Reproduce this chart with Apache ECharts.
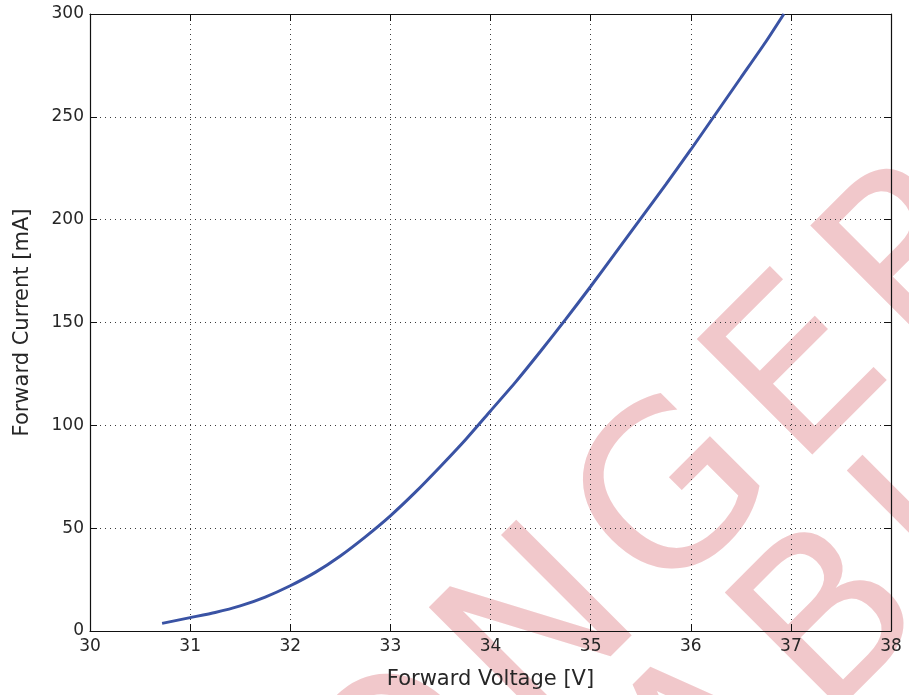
<!DOCTYPE html>
<html>
<head>
<meta charset="utf-8">
<script src="https://cdn.jsdelivr.net/npm/echarts@6/dist/echarts.min.js"></script>
<style>
  html, body { margin: 0; padding: 0; background: #ffffff; }
  #chart { width: 909px; height: 695px; }
</style>
</head>
<body>
<div id="chart"></div>
<script>
// ---- data ----
const voltage = [30.72, 31.0, 31.25, 31.5, 31.75, 32.0, 32.25, 32.5, 32.75, 33.0, 33.25, 33.5, 33.75, 34.0, 34.25, 34.5, 34.75, 35.0, 35.25, 35.5, 35.75, 36.0, 36.25, 36.5, 36.75, 36.93];
const current = [3.7, 6.5, 9.0, 12.2, 16.5, 22.0, 28.5, 36.5, 45.8, 56.0, 67.5, 80.0, 93.0, 107.0, 121.0, 136.0, 151.5, 167.5, 184.0, 200.5, 217.0, 234.0, 251.5, 269.0, 286.5, 300.0];
const xRange = [30, 38];
const yRange = [0, 300];
const xTitle = 'Forward Voltage [V]';
const yTitle = 'Forward Current [mA]';
const watermarkLines = ['NO LONGER', 'AVAILABLE'];

const FONT = '"DejaVu Sans", "Noto Sans", sans-serif';
const TEXT = '#262626';

const chart = echarts.init(document.getElementById('chart'), null, { renderer: 'canvas' });

const frameAxis = {
  axisLine: { show: true, onZero: false, lineStyle: { color: '#111', width: 1.2 } },
  axisTick: { show: true, inside: true, length: 7, lineStyle: { color: '#111', width: 1 } },
  splitLine: { show: false },
  axisLabel: { show: false }
};

// watermark: large rotated text with a little letter spacing (rich tokens with side padding)
const WM_FS = 224;
const WM_GAP = 19;
function spaced(str) {
  return str.split('').map(function (c) { return '{l|' + c + '}'; }).join('');
}
const wmStyle = {
  fontSize: WM_FS,
  fontFamily: 'DejaVu Sans',
  fill: '#f1c8cb',
  align: 'left',
  verticalAlign: 'middle',
  rich: {
    l: {
      fontSize: WM_FS,
      fontFamily: 'DejaVu Sans',
      fill: '#f1c8cb',
      padding: [0, WM_GAP / 2, 0, WM_GAP / 2]
    }
  }
};

chart.setOption({
  backgroundColor: '#ffffff',
  animation: false,
  graphic: {
    elements: [
      {
        type: 'text', z: -100, silent: true,
        x: -92.8, y: 1277.3, rotation: Math.PI / 4,
        style: Object.assign({ text: spaced(watermarkLines[0]) }, wmStyle)
      },
      {
        type: 'text', z: -100, silent: true,
        x: 127.8, y: 1338.1, rotation: Math.PI / 4,
        style: Object.assign({ text: spaced(watermarkLines[1]) }, wmStyle)
      }
    ]
  },
  grid: { left: 90, right: 18, top: 14, bottom: 64, containLabel: false },
  xAxis: [
    {
      type: 'value', position: 'bottom', min: xRange[0], max: xRange[1], interval: 1,
      axisLine: { show: true, onZero: false, lineStyle: { color: '#111', width: 1.2 } },
      axisTick: { show: true, inside: true, length: 7, lineStyle: { color: '#111', width: 1 } },
      axisLabel: { show: true, margin: 7, fontSize: 17, color: TEXT, fontFamily: FONT, showMinLabel: true, showMaxLabel: true },
      splitLine: { show: true, lineStyle: { color: '#3a3a3a', width: 1, type: [1, 4] } },
      name: xTitle, nameLocation: 'middle', nameGap: 38,
      nameTextStyle: { fontSize: 21, color: TEXT, fontFamily: FONT }
    },
    Object.assign({ type: 'value', position: 'top', min: xRange[0], max: xRange[1], interval: 1 }, frameAxis)
  ],
  yAxis: [
    {
      type: 'value', position: 'left', min: yRange[0], max: yRange[1], interval: 50,
      axisLine: { show: true, onZero: false, lineStyle: { color: '#111', width: 1.2 } },
      axisTick: { show: true, inside: true, length: 7, lineStyle: { color: '#111', width: 1 } },
      axisLabel: { show: true, margin: 6, fontSize: 17, color: TEXT, fontFamily: FONT, showMinLabel: true, showMaxLabel: true },
      splitLine: { show: true, lineStyle: { color: '#3a3a3a', width: 1, type: [1, 4] } },
      name: yTitle, nameLocation: 'middle', nameGap: 57,
      nameTextStyle: { fontSize: 21, color: TEXT, fontFamily: FONT }
    },
    Object.assign({ type: 'value', position: 'right', min: yRange[0], max: yRange[1], interval: 50 }, frameAxis)
  ],
  series: [
    {
      type: 'line',
      xAxisIndex: 0, yAxisIndex: 0,
      data: voltage.map((v, i) => [v, current[i]]),
      showSymbol: false,
      smooth: 0.2,
      clip: true,
      lineStyle: { color: '#3a53a4', width: 3 },
      z: 5
    }
  ]
});
</script>
</body>
</html>
